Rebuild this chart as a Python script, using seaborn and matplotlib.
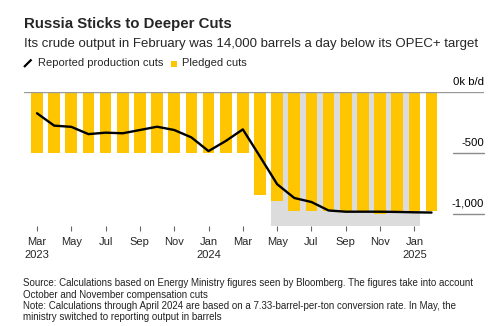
import matplotlib
matplotlib.use("Agg")
import matplotlib.pyplot as plt
import seaborn as sns
import numpy as np
import pandas as pd
from matplotlib.lines import Line2D
from matplotlib.patches import Rectangle

# Monthly data, Mar 2023 - Feb 2025 (thousand barrels a day, cuts shown as negatives)
months = ["Mar 2023", "Apr 2023", "May 2023", "Jun 2023", "Jul 2023", "Aug 2023",
          "Sep 2023", "Oct 2023", "Nov 2023", "Dec 2023", "Jan 2024", "Feb 2024",
          "Mar 2024", "Apr 2024", "May 2024", "Jun 2024", "Jul 2024", "Aug 2024",
          "Sep 2024", "Oct 2024", "Nov 2024", "Dec 2024", "Jan 2025", "Feb 2025"]
pledged_cuts = [-500, -500, -500, -500, -500, -500, -500, -500, -500, -500, -500, -500,
                -500, -850, -900, -978, -978, -978, -978, -978, -1005, -978, -978, -978]
reported_cuts = [-173, -275, -285, -345, -333, -338, -311, -284, -311, -372, -485, -402,
                 -306, -530, -758, -872, -905, -975, -985, -985, -985, -987, -990, -992]

tick_labels = ["Mar\n2023", "May", "Jul", "Sep", "Nov", "Jan\n2024",
               "Mar", "May", "Jul", "Sep", "Nov", "Jan\n2025"]
y_ticks = [0, -500, -1000]
y_tick_labels = ["0k b/d", "-500", "-1,000"]

# Barrels-reporting period (May 2024 - Jan 2025)
shade_start, shade_end = "May 2024", "Jan 2025"

df = pd.DataFrame({"month": months, "pledged": pledged_cuts, "reported": reported_cuts})
df["pos"] = np.arange(len(df))

W, H = 502, 326
fig = plt.figure(figsize=(W / 100, H / 100), dpi=100)
sns.set_style("white")
plt.rcParams["font.family"] = ["Liberation Sans", "DejaVu Sans"]

ax = fig.add_axes([24 / W, 1 - 226 / H, 460 / W, (226 - 92.3) / H])

YELLOW = "#FFC500"
GREY_SHADE = "#DCDCDC"
bar_w = 0.68

# shaded background for the barrels-reporting period
i0 = months.index(shade_start)
i1 = months.index(shade_end)
ax.axvspan(i0 - bar_w / 2 - 0.02, i1 + bar_w / 2, color=GREY_SHADE, lw=0, zorder=0)

sns.barplot(data=df, x="pos", y="pledged", color=YELLOW, width=bar_w,
            saturation=1, native_scale=True, linewidth=0, edgecolor="none",
            ax=ax, zorder=2)
sns.lineplot(data=df, x="pos", y="reported", color="black", lw=1.7, ax=ax,
             zorder=4, solid_joinstyle="round")

ax.set_xlim(-0.758, 26.06)
ax.set_ylim(-1103, 0)
ax.set_xlabel("")
ax.set_ylabel("")
for s in ax.spines.values():
    s.set_visible(False)

# zero line across the full width
ax.axhline(0, color="#9a9a9a", lw=1.0, zorder=3)

# right-side value labels with short rules beneath
for v, lab in zip(y_ticks, y_tick_labels):
    ax.text(1.0, v + 40, lab, transform=ax.get_yaxis_transform(), ha="right",
            va="bottom", fontsize=8.2, color="black")
    if v != 0:
        ax.plot([(453 - 24) / 460, 1.0], [v, v], transform=ax.get_yaxis_transform(),
                color="#8a8a8a", lw=1.0, clip_on=False)
ax.set_yticks([])

ax.set_xticks(np.arange(0, len(months), 2))
ax.set_xticklabels(tick_labels, fontsize=8.0, linespacing=1.3)
ax.tick_params(axis="x", length=3.5, width=0.8, color="#666666", pad=4.5, bottom=True)

# title block
fig.text(24 / W, 1 - 24 / H, "Russia Sticks to Deeper Cuts", fontsize=10.8,
         fontweight="bold", va="center", ha="left")
fig.text(24 / W, 1 - 44 / H,
         "Its crude output in February was 14,000 barrels a day below its OPEC+ target",
         fontsize=9.5, va="center", ha="left")

# legend
fig.add_artist(Line2D([24 / W, 31.5 / W], [1 - 67 / H, 1 - 59.5 / H], color="black",
                      lw=1.6, solid_capstyle="butt"))
fig.text(37.5 / W, 1 - 63 / H, "Reported production cuts", fontsize=8.0,
         va="center", ha="left")
fig.add_artist(Rectangle((171 / W, 1 - 67 / H), 6.5 / W, 6.5 / H, color=YELLOW, lw=0))
fig.text(182.5 / W, 1 - 63 / H, "Pledged cuts", fontsize=8.0, va="center", ha="left")

# footnotes
notes = ["Source: Calculations based on Energy Ministry figures seen by Bloomberg. The figures take into account",
         "October and November compensation cuts",
         "Note: Calculations through April 2024 are based on a 7.33-barrel-per-ton conversion rate. In May, the",
         "ministry switched to reporting output in barrels"]
for k, line in enumerate(notes):
    fig.text(23 / W, 1 - (283.3 + 11.4 * k) / H, line, fontsize=7.0, va="center",
             ha="left", color="#222222")

fig.savefig("out.png", dpi=100)
